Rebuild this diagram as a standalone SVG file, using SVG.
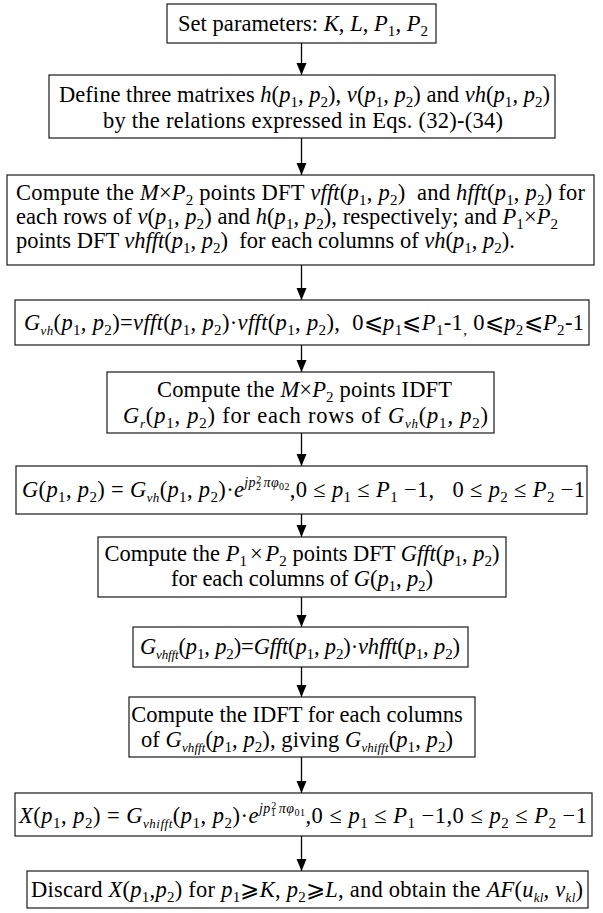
<svg xmlns="http://www.w3.org/2000/svg" width="603" height="913" viewBox="0 0 603 913">
<style>
.box{fill:#fff;stroke:#1a1a1a;stroke-width:1.2}
.t{font-family:"Liberation Serif","Times New Roman",serif;font-size:22.5px;fill:#000;white-space:pre}
.m{text-anchor:middle}
.i{font-style:italic}
.s{font-size:15px;baseline-shift:-5px}
.ss{font-size:13px;font-style:italic;baseline-shift:-5px}
.e{font-size:14px;font-style:italic}
.ee{font-size:10px}
.c{stroke:#000;stroke-width:1.3;fill:none}
</style>
<g id="connectors">
<line class="c" x1="301.5" y1="43" x2="301.5" y2="75"/>
<path d="M296.5,63 L306.5,63 L301.5,75 Z"/>
<line class="c" x1="301.5" y1="138" x2="301.5" y2="175"/>
<path d="M296.5,163 L306.5,163 L301.5,175 Z"/>
<line class="c" x1="301.5" y1="265" x2="301.5" y2="300"/>
<path d="M296.5,288 L306.5,288 L301.5,300 Z"/>
<line class="c" x1="301.5" y1="345" x2="301.5" y2="372"/>
<path d="M296.5,360 L306.5,360 L301.5,372 Z"/>
<line class="c" x1="301.5" y1="433" x2="301.5" y2="466"/>
<path d="M296.5,454 L306.5,454 L301.5,466 Z"/>
<line class="c" x1="301.5" y1="514" x2="301.5" y2="537"/>
<path d="M296.5,525 L306.5,525 L301.5,537 Z"/>
<line class="c" x1="301.5" y1="597" x2="301.5" y2="627"/>
<path d="M296.5,615 L306.5,615 L301.5,627 Z"/>
<line class="c" x1="301.5" y1="667" x2="301.5" y2="697"/>
<path d="M296.5,685 L306.5,685 L301.5,697 Z"/>
<line class="c" x1="301.5" y1="757" x2="301.5" y2="793"/>
<path d="M296.5,781 L306.5,781 L301.5,793 Z"/>
<line class="c" x1="301.5" y1="836" x2="301.5" y2="871"/>
<path d="M296.5,859 L306.5,859 L301.5,871 Z"/>
</g>
<g id="n1">
<rect class="box" x="167" y="4" width="269" height="39"/>
<text class="t" x="178" y="31" textLength="250" lengthAdjust="spacing">Set parameters: <tspan class="i">K</tspan>, <tspan class="i">L</tspan>, <tspan class="i">P</tspan><tspan class="s">1</tspan>, <tspan class="i">P</tspan><tspan class="s">2</tspan></text>
</g>
<g id="n2">
<rect class="box" x="49" y="75" width="506" height="63"/>
<text class="t" x="59" y="102" textLength="491" lengthAdjust="spacing">Define three matrixes <tspan class="i">h</tspan>(<tspan class="i">p</tspan><tspan class="s">1</tspan>, <tspan class="i">p</tspan><tspan class="s">2</tspan>), <tspan class="i">v</tspan>(<tspan class="i">p</tspan><tspan class="s">1</tspan>, <tspan class="i">p</tspan><tspan class="s">2</tspan>) and <tspan class="i">vh</tspan>(<tspan class="i">p</tspan><tspan class="s">1</tspan>, <tspan class="i">p</tspan><tspan class="s">2</tspan>)</text>
<text class="t" x="103" y="128" textLength="400" lengthAdjust="spacing">by the relations expressed in Eqs. (32)-(34)</text>
</g>
<g id="n3">
<rect class="box" x="7" y="175" width="587" height="90"/>
<text class="t" x="16" y="200" textLength="569" lengthAdjust="spacing">Compute the <tspan class="i">M</tspan>×<tspan class="i">P</tspan><tspan class="s">2</tspan> points DFT <tspan class="i">vfft</tspan>(<tspan class="i">p</tspan><tspan class="s">1</tspan>, <tspan class="i">p</tspan><tspan class="s">2</tspan>)  and <tspan class="i">hfft</tspan>(<tspan class="i">p</tspan><tspan class="s">1</tspan>, <tspan class="i">p</tspan><tspan class="s">2</tspan>) for</text>
<text class="t" x="16" y="224" textLength="542" lengthAdjust="spacing">each rows of <tspan class="i">v</tspan>(<tspan class="i">p</tspan><tspan class="s">1</tspan>, <tspan class="i">p</tspan><tspan class="s">2</tspan>) and <tspan class="i">h</tspan>(<tspan class="i">p</tspan><tspan class="s">1</tspan>, <tspan class="i">p</tspan><tspan class="s">2</tspan>), respectively; and <tspan class="i">P</tspan><tspan class="s">1</tspan>×<tspan class="i">P</tspan><tspan class="s">2</tspan></text>
<text class="t" x="16" y="248">points DFT <tspan class="i">vhfft</tspan>(<tspan class="i">p</tspan><tspan class="s">1</tspan>, <tspan class="i">p</tspan><tspan class="s">2</tspan>)  for each columns of <tspan class="i">vh</tspan>(<tspan class="i">p</tspan><tspan class="s">1</tspan>, <tspan class="i">p</tspan><tspan class="s">2</tspan>).</text>
</g>
<g id="n4">
<rect class="box" x="15" y="300" width="574" height="45"/>
<text class="t" x="24" y="330" textLength="560" lengthAdjust="spacing"><tspan class="i">G</tspan><tspan class="ss">vh</tspan>(<tspan class="i">p</tspan><tspan class="s">1</tspan>, <tspan class="i">p</tspan><tspan class="s">2</tspan>)=<tspan class="i">vfft</tspan>(<tspan class="i">p</tspan><tspan class="s">1</tspan>, <tspan class="i">p</tspan><tspan class="s">2</tspan>)·<tspan class="i">vfft</tspan>(<tspan class="i">p</tspan><tspan class="s">1</tspan>, <tspan class="i">p</tspan><tspan class="s">2</tspan>),  0⩽<tspan class="i">p</tspan><tspan class="s">1</tspan>⩽<tspan class="i">P</tspan><tspan class="s">1</tspan>-1<tspan class="s">,</tspan> 0⩽<tspan class="i">p</tspan><tspan class="s">2</tspan>⩽<tspan class="i">P</tspan><tspan class="s">2</tspan>-1</text>
</g>
<g id="n5">
<rect class="box" x="107" y="372" width="387" height="61"/>
<text class="t" x="157" y="397" textLength="295" lengthAdjust="spacing">Compute the <tspan class="i">M</tspan>×<tspan class="i">P</tspan><tspan class="s">2</tspan> points IDFT</text>
<text class="t" x="123" y="423" textLength="365" lengthAdjust="spacing"><tspan class="i">G</tspan><tspan class="ss">r</tspan>(<tspan class="i">p</tspan><tspan class="s">1</tspan>, <tspan class="i">p</tspan><tspan class="s">2</tspan>) for each rows of <tspan class="i">G</tspan><tspan class="ss">vh</tspan>(<tspan class="i">p</tspan><tspan class="s">1</tspan>, <tspan class="i">p</tspan><tspan class="s">2</tspan>)</text>
</g>
<g id="n6">
<rect class="box" x="16" y="466" width="571" height="48"/>
<text class="t" x="22" y="497" textLength="563" lengthAdjust="spacing"><tspan class="i">G</tspan>(<tspan class="i">p</tspan><tspan class="s">1</tspan>, <tspan class="i">p</tspan><tspan class="s">2</tspan>) = <tspan class="i">G</tspan><tspan class="ss">vh</tspan>(<tspan class="i">p</tspan><tspan class="s">1</tspan>, <tspan class="i">p</tspan><tspan class="s">2</tspan>)·<tspan class="i">e</tspan><tspan class="e" dy="-10">jp</tspan><tspan class="ee" dy="3">2</tspan><tspan class="ee" dx="-5" dy="-7">2</tspan><tspan class="e" dx="2" dy="4">πφ</tspan><tspan class="ee" dy="3">02</tspan><tspan dy="7">,0 ≤ </tspan><tspan class="i">p</tspan><tspan class="s">1</tspan> ≤ <tspan class="i">P</tspan><tspan class="s">1</tspan> −1,   0 ≤ <tspan class="i">p</tspan><tspan class="s">2</tspan> ≤ <tspan class="i">P</tspan><tspan class="s">2</tspan> −1</text>
</g>
<g id="n7">
<rect class="box" x="98" y="537" width="408" height="60"/>
<text class="t m" x="302" y="561">Compute the <tspan class="i">P</tspan><tspan class="s">1</tspan><tspan dx="3">×</tspan><tspan class="i" dx="3">P</tspan><tspan class="s">2</tspan> points DFT <tspan class="i">Gfft</tspan>(<tspan class="i">p</tspan><tspan class="s">1</tspan>, <tspan class="i">p</tspan><tspan class="s">2</tspan>)</text>
<text class="t" x="171" y="586" textLength="262" lengthAdjust="spacing">for each columns of <tspan class="i">G</tspan>(<tspan class="i">p</tspan><tspan class="s">1</tspan>, <tspan class="i">p</tspan><tspan class="s">2</tspan>)</text>
</g>
<g id="n8">
<rect class="box" x="133" y="627" width="335" height="40"/>
<text class="t" x="140" y="654" textLength="320" lengthAdjust="spacing"><tspan class="i">G</tspan><tspan class="ss">vhfft</tspan>(<tspan class="i">p</tspan><tspan class="s">1</tspan>, <tspan class="i">p</tspan><tspan class="s">2</tspan>)=<tspan class="i">Gfft</tspan>(<tspan class="i">p</tspan><tspan class="s">1</tspan>, <tspan class="i">p</tspan><tspan class="s">2</tspan>)·<tspan class="i">vhfft</tspan>(<tspan class="i">p</tspan><tspan class="s">1</tspan>, <tspan class="i">p</tspan><tspan class="s">2</tspan>)</text>
</g>
<g id="n9">
<rect class="box" x="129" y="697" width="346" height="60"/>
<text class="t m" x="297" y="722">Compute the IDFT for each columns</text>
<text class="t" x="141" y="747" textLength="312" lengthAdjust="spacing">of <tspan class="i">G</tspan><tspan class="ss">vhfft</tspan>(<tspan class="i">p</tspan><tspan class="s">1</tspan>, <tspan class="i">p</tspan><tspan class="s">2</tspan>), giving <tspan class="i">G</tspan><tspan class="ss">vhifft</tspan>(<tspan class="i">p</tspan><tspan class="s">1</tspan>, <tspan class="i">p</tspan><tspan class="s">2</tspan>)</text>
</g>
<g id="n10">
<rect class="box" x="15" y="793" width="577" height="43"/>
<text class="t" x="19" y="823" textLength="568" lengthAdjust="spacing"><tspan class="i">X</tspan>(<tspan class="i">p</tspan><tspan class="s">1</tspan>, <tspan class="i">p</tspan><tspan class="s">2</tspan>) = <tspan class="i">G</tspan><tspan class="ss">vhifft</tspan>(<tspan class="i">p</tspan><tspan class="s">1</tspan>, <tspan class="i">p</tspan><tspan class="s">2</tspan>)·<tspan class="i">e</tspan><tspan class="e" dy="-10">jp</tspan><tspan class="ee" dy="3">1</tspan><tspan class="ee" dx="-5" dy="-7">2</tspan><tspan class="e" dx="2" dy="4">πφ</tspan><tspan class="ee" dy="3">01</tspan><tspan dy="7">,0 ≤ </tspan><tspan class="i">p</tspan><tspan class="s">1</tspan> ≤ <tspan class="i">P</tspan><tspan class="s">1</tspan> −1,0 ≤ <tspan class="i">p</tspan><tspan class="s">2</tspan> ≤ <tspan class="i">P</tspan><tspan class="s">2</tspan> −1</text>
</g>
<g id="n11">
<rect class="box" x="27" y="871" width="561" height="37"/>
<text class="t" x="31" y="897" textLength="552" lengthAdjust="spacing">Discard <tspan class="i">X</tspan>(<tspan class="i">p</tspan><tspan class="s">1</tspan>,<tspan class="i">p</tspan><tspan class="s">2</tspan>) for <tspan class="i">p</tspan><tspan class="s">1</tspan>⩾<tspan class="i">K</tspan>, <tspan class="i">p</tspan><tspan class="s">2</tspan>⩾<tspan class="i">L</tspan>, and obtain the <tspan class="i">AF</tspan>(<tspan class="i">u</tspan><tspan class="ss">kl</tspan>, <tspan class="i">v</tspan><tspan class="ss">kl</tspan>)</text>
</g>
</svg>
